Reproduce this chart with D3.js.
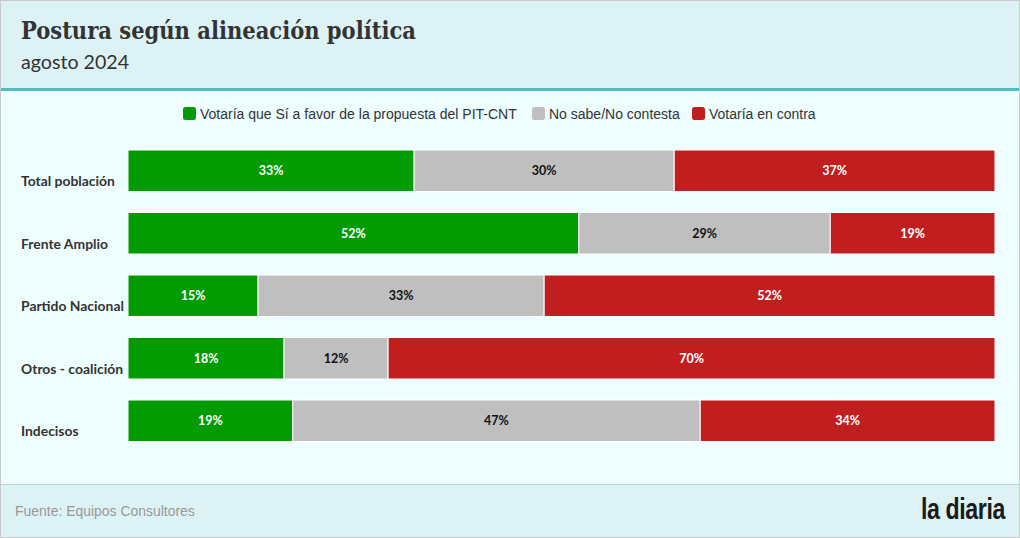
<!DOCTYPE html>
<html><head><meta charset="utf-8">
<script src="https://cdn.jsdelivr.net/npm/d3@7"></script>
<style>
html,body{margin:0;padding:0;background:#fff;}
svg{display:block;}
</style></head>
<body>
<svg id="c" width="1020" height="538"></svg>
<script>
const categories = ["Total población","Frente Amplio","Partido Nacional","Otros - coalición","Indecisos"];
const seriesNames = ["Votaría que Sí a favor de la propuesta del PIT-CNT","No sabe/No contesta","Votaría en contra"];
const siValues = [33,52,15,18,19];
const nsncValues = [30,29,33,12,47];
const contraValues = [37,19,52,70,34];
const colors = ["#029b02","#bfbfbf","#c11f1f"];
const labelColors = ["#ffffff","#111111","#ffffff"];

const svg = d3.select("#c");
const W = 1020, H = 538;

// backgrounds
svg.append("rect").attr("x",0).attr("y",0).attr("width",W).attr("height",H).attr("fill","#eefefe");
svg.append("rect").attr("x",0).attr("y",0).attr("width",W).attr("height",89).attr("fill","#dcf2f5");
svg.append("rect").attr("x",0).attr("y",88).attr("width",W).attr("height",3).attr("fill","#4fbdc0");
svg.append("rect").attr("x",0).attr("y",484).attr("width",W).attr("height",54).attr("fill","#dcf2f5");
svg.append("line").attr("x1",0).attr("x2",W).attr("y1",484.5).attr("y2",484.5).attr("stroke","#c4d4d6");
svg.append("rect").attr("x",0.5).attr("y",0.5).attr("width",W-1).attr("height",H-1).attr("fill","none").attr("stroke","#c8cccd");

function fit(sel, target){
  const l = sel.node().getComputedTextLength();
  const fs = parseFloat(sel.attr("font-size"));
  sel.attr("font-size", (fs*target/l).toFixed(2));
}
function condensed(x, yb, target, attrs, txt){
  const g = svg.append("g");
  const t = g.append("text").attr("x",0).attr("y",0);
  Object.entries(attrs).forEach(([k,v])=>t.attr(k,v));
  t.text(txt);
  const l = t.node().getComputedTextLength();
  g.attr("transform",`translate(${x},${yb}) scale(${target/l},1)`);
  return t;
}

const title = svg.append("text").attr("x",21).attr("y",39)
  .attr("font-family","'DejaVu Serif'").attr("font-stretch","condensed").attr("font-weight","bold")
  .attr("font-size",25).attr("fill","#333").text("Postura según alineación política");
fit(title, 395);
const sub = svg.append("text").attr("x",21).attr("y",69)
  .attr("font-family","Lato").attr("font-size",19.5).attr("fill","#333").text("agosto 2024");
fit(sub, 108);

// legend
const legX = [183, 532, 692];
seriesNames.forEach((n,i)=>{
  const g = svg.append("g");
  g.append("rect").attr("x",legX[i]).attr("y",107).attr("width",13).attr("height",13).attr("rx",2.5).attr("fill",colors[i]);
  g.append("text").attr("x",legX[i]+17).attr("y",119).attr("font-family","'Liberation Sans'").attr("font-size",14).attr("fill","#333").text(n);
});

const data = categories.map((c,i)=>({cat:c, si:siValues[i], ns:nsncValues[i], co:contraValues[i]}));
const stack = d3.stack().keys(["si","ns","co"])(data);

const x = d3.scaleLinear().domain([0,100]).range([128,995]);
const y = d3.scaleBand().domain(categories).range([150,441.5]).paddingInner(0.336).paddingOuter(0);

stack.forEach((s,si)=>{
  const g = svg.append("g");
  g.selectAll("rect").data(s).join("rect")
    .attr("x",d=>x(d[0])).attr("width",d=>x(d[1])-x(d[0]))
    .attr("y",d=>y(d.data.cat)).attr("height",y.bandwidth())
    .attr("fill",colors[si]).attr("stroke","#ffffff").attr("stroke-width",1);
  g.selectAll("text").data(s).join("text")
    .attr("x",d=>(x(d[0])+x(d[1]))/2).attr("y",d=>y(d.data.cat)+y.bandwidth()/2+4.5)
    .attr("text-anchor","middle").attr("font-family","Lato").attr("font-weight","bold")
    .attr("font-size",12.5).attr("fill",labelColors[si]).text(d=>(d[1]-d[0])+"%");
});

svg.append("g").selectAll("text").data(categories).join("text")
  .attr("x",21).attr("y",d=>y(d)+y.bandwidth()-5.5)
  .attr("font-family","Lato").attr("font-weight","bold").attr("font-size",13.9).attr("fill","#333")
  .text(d=>d);

// footer
condensed(15, 516, 180, {"font-family":"'Liberation Sans'","font-size":15.5,"fill":"#999"}, "Fuente: Equipos Consultores");
condensed(921, 519, 84, {"font-family":"'Liberation Sans'","font-weight":"bold","font-size":29,"fill":"#1a1a1a","letter-spacing":-0.5}, "la diaria");
</script>
</body></html>
